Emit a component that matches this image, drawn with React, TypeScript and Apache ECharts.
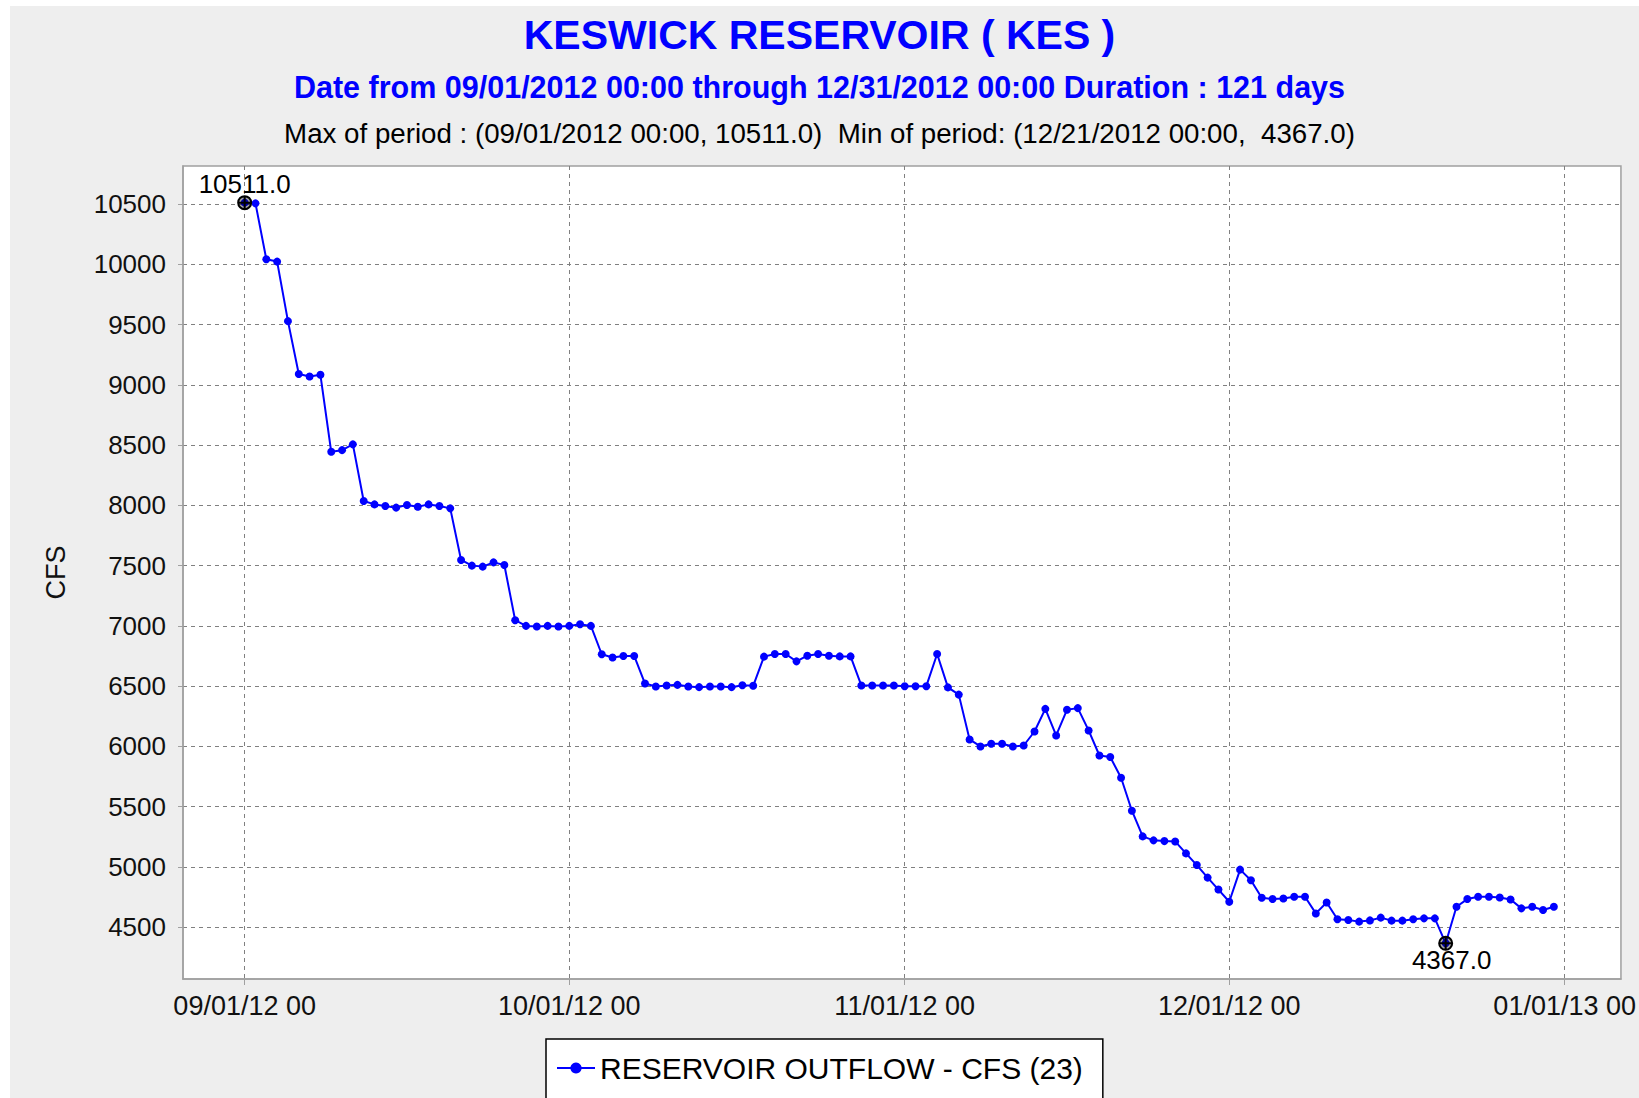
import React, { useEffect, useRef } from "react";
import * as echarts from "echarts";

// Daily reservoir outflow (CFS), 09/01/2012 .. 12/31/2012 (day index 0..121)
const OUTFLOW_CFS = [
  10511, 10505, 10042, 10022, 9528, 9089, 9069, 9083, 8444, 8458,
  8506, 8036, 8008, 7994, 7981, 8003, 7989, 8008, 7994, 7975,
  7547, 7500, 7492, 7527, 7505, 7047, 7000, 6995, 7000, 6995,
  7000, 7014, 7000, 6765, 6738, 6751, 6751, 6522, 6497, 6505,
  6511, 6497, 6492, 6497, 6497, 6492, 6508, 6503, 6745, 6767,
  6767, 6706, 6753, 6767, 6753, 6747, 6747, 6505, 6505, 6505,
  6505, 6500, 6500, 6500, 6767, 6490, 6430, 6058, 6000, 6022,
  6022, 6000, 6008, 6124, 6312, 6091, 6304, 6318, 6133, 5925,
  5912, 5740, 5467, 5254, 5221, 5215, 5212, 5113, 5016, 4912,
  4813, 4712, 4978, 4890, 4745, 4734, 4739, 4753, 4753, 4615,
  4706, 4566, 4560, 4547, 4557, 4580, 4555, 4555, 4566, 4574,
  4574, 4367, 4670, 4734, 4753, 4753, 4747, 4731, 4657, 4670,
  4643, 4670,
];

const X_TICK_DAYS = [0, 30, 61, 91, 122];
const X_TICK_LABELS = ["09/01/12 00", "10/01/12 00", "11/01/12 00", "12/01/12 00", "01/01/13 00"];
const Y_TICKS = [4500, 5000, 5500, 6000, 6500, 7000, 7500, 8000, 8500, 9000, 9500, 10000, 10500];

const SERIES_NAME = "RESERVOIR OUTFLOW - CFS (23)";
const TITLE = "KESWICK RESERVOIR ( KES )";
const SUBTITLE = "Date from 09/01/2012 00:00 through 12/31/2012 00:00 Duration : 121 days";
const INFO_LINE = "Max of period : (09/01/2012 00:00, 10511.0)  Min of period: (12/21/2012 00:00,  4367.0)";
const MAX_POINT = { day: 0, value: 10511, label: "10511.0" };
const MIN_POINT = { day: 111, value: 4367, label: "4367.0" };

const FONT = "'Liberation Sans', Arial, Helvetica, sans-serif";

export default function App() {
  const ref = useRef<HTMLDivElement>(null);

  useEffect(() => {
    if (!ref.current) return;
    const chart = echarts.init(ref.current, undefined, { renderer: "svg" });
    const data = OUTFLOW_CFS.map((v, i) => [i, v]);
    const gridStroke = "#808080";

    chart.setOption({
      animation: false,
      backgroundColor: "#EEEEEE",
      textStyle: { fontFamily: FONT },
      graphic: [
        { type: "rect", left: 0, top: 0, shape: { width: 1639, height: 6 }, style: { fill: "#ffffff" }, silent: true },
        { type: "rect", left: 0, top: 0, shape: { width: 10, height: 1098 }, style: { fill: "#ffffff" }, silent: true },
      ],
      title: [
        {
          text: TITLE, left: "center", top: 9,
          textStyle: { fontFamily: FONT, fontSize: 41, fontWeight: "bold", color: "#0000FF", lineHeight: 41 },
        },
        {
          text: SUBTITLE, left: "center", top: 67,
          textStyle: { fontFamily: FONT, fontSize: 30.5, fontWeight: "bold", color: "#0000FF", lineHeight: 30 },
        },
        {
          text: INFO_LINE, left: "center", top: 114,
          textStyle: { fontFamily: FONT, fontSize: 27.7, fontWeight: "normal", color: "#000000", lineHeight: 28 },
        },
      ],
      legend: {
        data: [SERIES_NAME],
        left: 546,
        top: 1039,
        padding: [14, 20, 40, 10],
        itemWidth: 38,
        itemHeight: 14,
        itemGap: 8,
        backgroundColor: "#ffffff",
        borderColor: "#000000",
        borderWidth: 1.5,
        borderRadius: 0,
        textStyle: { fontFamily: FONT, fontSize: 30, color: "#000000" },
      },
      grid: {
        left: 183, top: 166, width: 1439, height: 813,
        show: true, backgroundColor: "#ffffff", borderColor: "#a0a0a0", borderWidth: 1.5,
      },
      xAxis: {
        type: "value",
        min: -5.7,
        max: 127.2,
        axisLine: { show: true, onZero: false, lineStyle: { color: "#a0a0a0", width: 1.5 } },
        axisTick: { show: true, length: 6, customValues: X_TICK_DAYS, lineStyle: { color: "#a0a0a0" } },
        axisLabel: {
          customValues: X_TICK_DAYS,
          margin: 13,
          fontFamily: FONT, fontSize: 27, color: "#111111",
          formatter: (v: number) => {
            const i = X_TICK_DAYS.indexOf(Math.round(v));
            return i >= 0 ? X_TICK_LABELS[i] : "";
          },
        },
        splitLine: { show: true, lineStyle: { color: gridStroke, type: [4, 4], width: 1 } },
      },
      yAxis: {
        type: "value",
        min: 4071,
        max: 10815,
        name: "CFS",
        nameLocation: "middle",
        nameGap: 114,
        nameTextStyle: { fontFamily: FONT, fontSize: 27, color: "#111111" },
        axisLine: { show: true, onZero: false, lineStyle: { color: "#a0a0a0", width: 1.5 } },
        axisTick: { show: true, length: 5, customValues: Y_TICKS, lineStyle: { color: "#a0a0a0" } },
        axisLabel: {
          customValues: Y_TICKS,
          margin: 17,
          fontFamily: FONT, fontSize: 26, color: "#111111",
          formatter: (v: number) => String(Math.round(v)),
        },
        splitLine: { show: true, lineStyle: { color: gridStroke, type: [4, 4], width: 1 } },
      },
      series: [
        {
          name: SERIES_NAME,
          type: "line",
          data,
          symbol: "circle",
          symbolSize: 8,
          showSymbol: true,
          showAllSymbol: true,
          lineStyle: { color: "#0000FF", width: 2 },
          itemStyle: { color: "#0000FF" },
          markPoint: {
            symbol: "path://M0,-10A10,10 0 1,1 0,10A10,10 0 1,1 0,-10ZM-10,0L10,0M0,-10L0,10",
            symbolSize: 13,
            itemStyle: { color: "rgba(0,0,0,0.35)", borderColor: "#000000", borderWidth: 2 },
            label: { show: true, color: "#000000", fontFamily: FONT, fontSize: 26, lineHeight: 26 },
            data: [
              {
                coord: [MAX_POINT.day, MAX_POINT.value],
                label: { position: "top", distance: -2, formatter: MAX_POINT.label },
              },
              {
                coord: [MIN_POINT.day, MIN_POINT.value],
                label: { position: "bottom", distance: -4, offset: [6, 0], formatter: MIN_POINT.label },
              },
            ],
          },
        },
      ],
    });

    return () => chart.dispose();
  }, []);

  return (
    <div
      ref={ref}
      style={{ position: "fixed", left: 0, top: 0, width: 1639, height: 1098 }}
    />
  );
}
